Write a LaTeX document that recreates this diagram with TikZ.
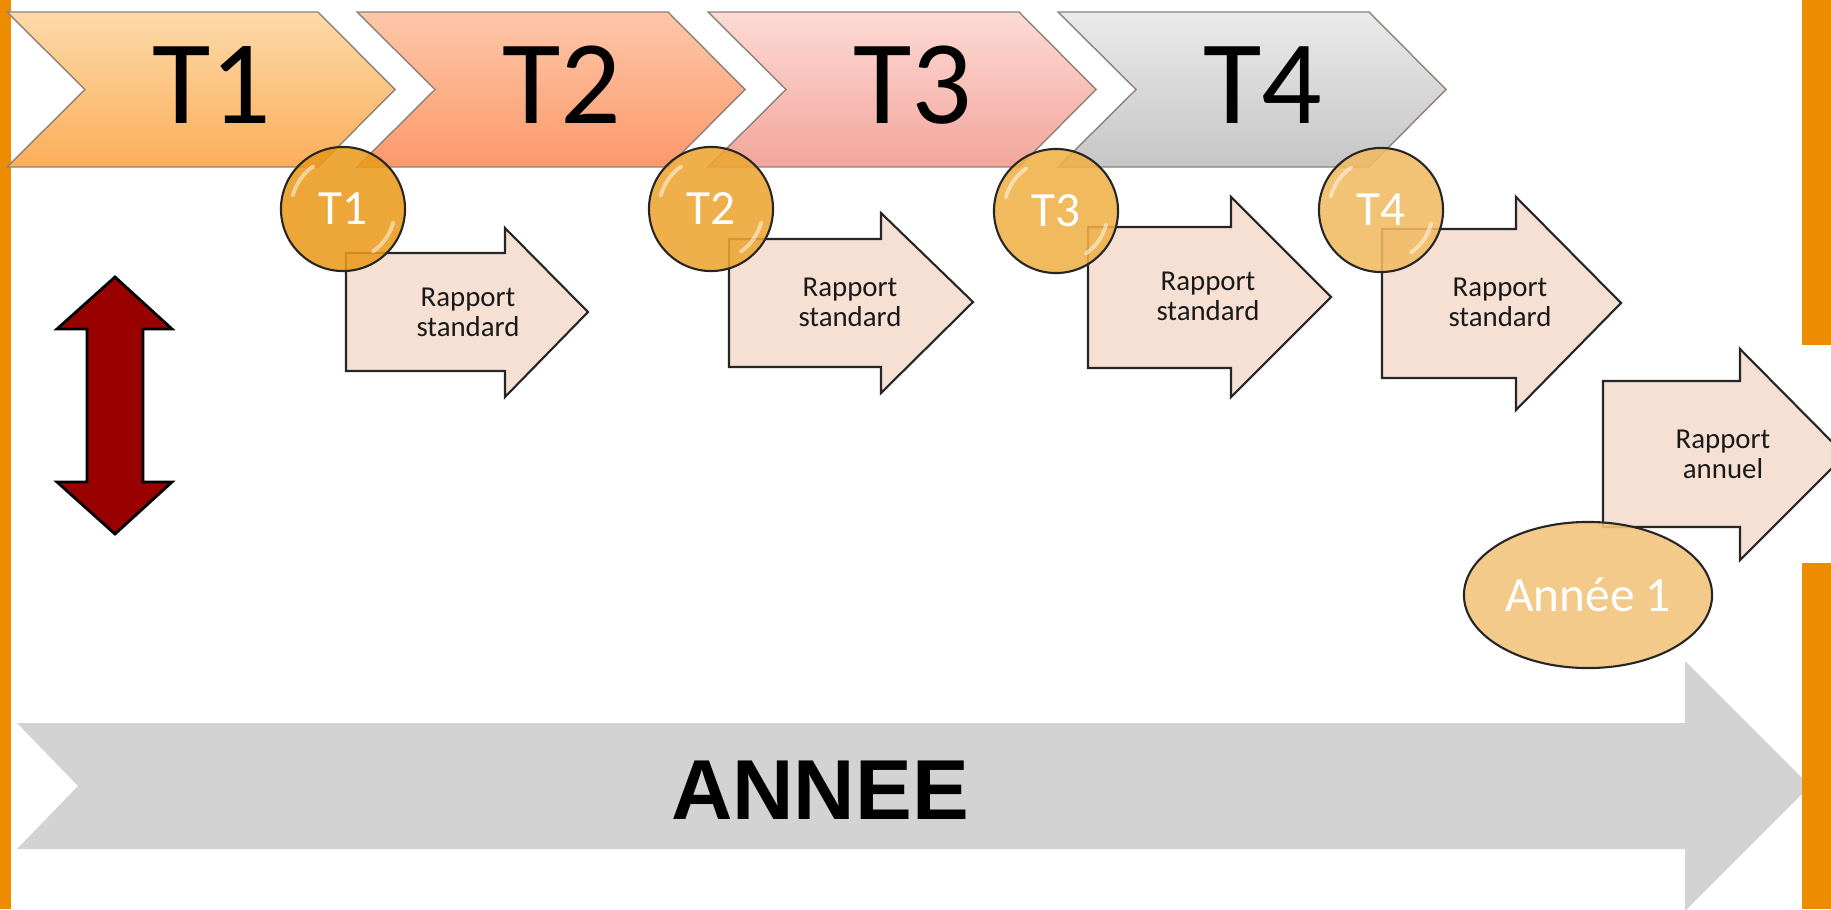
\documentclass[tikz,border=0pt]{standalone}
\usepackage{fontspec}
\setmainfont{Carlito}
\newfontfamily\arialfont{Liberation Sans}
\usetikzlibrary{shapes.geometric}
\definecolor{bordorange}{HTML}{EE8C00}
\definecolor{tunhaut}{HTML}{FDDAA9}
\definecolor{tunbas}{HTML}{FBAE5A}
\definecolor{tdeuxhaut}{HTML}{FDC7A9}
\definecolor{tdeuxbas}{HTML}{FB996A}
\definecolor{ttroishaut}{HTML}{FDDAD5}
\definecolor{ttroisbas}{HTML}{F2A59B}
\definecolor{tquatrehaut}{HTML}{EAEAEA}
\definecolor{tquatrebas}{HTML}{C6C6C6}
\definecolor{chevronbord}{HTML}{8E8278}
\definecolor{rapportfond}{HTML}{F6DFD3}
\definecolor{rougefonce}{HTML}{990000}
\definecolor{grisannee}{HTML}{D3D3D3}
\definecolor{bulleun}{HTML}{EA9A1C}
\definecolor{bulledeux}{HTML}{EDA533}
\definecolor{bulletrois}{HTML}{EFB047}
\definecolor{bullequatre}{HTML}{F1BB62}
\definecolor{bulleannee}{HTML}{F3C47E}
\newcommand{\flecherapport}[8]{%
  \draw[rapport] (#1,#2) -- (#4,#2) -- (#4,#5) -- (#7,#8) -- (#4,#6) -- (#4,#3) -- (#1,#3) -- cycle;}
\begin{document}
\begin{tikzpicture}[x=0.01cm, y=-0.01cm,
    chevron/.style={draw=chevronbord, line width=0.4pt},
    rapport/.style={draw=black!85, fill=rapportfond, line width=0.6pt},
    rapporttexte/.style={align=center, text=black!90, font=\fontsize{8.2}{8.6}\selectfont},
    reflet/.style={white, opacity=0.5, line width=1.1pt, line cap=round},
    bulle/.style={circle, draw=black!85, line width=0.6pt, minimum size=1.24cm, inner sep=0pt,
      fill opacity=0.88, text opacity=1, text=white, font=\fontsize{14}{14}\selectfont}]
  \useasboundingbox (0,0) rectangle (1831,909);

  % Grande fleche ANNEE
  \fill[grisannee] (17,723) -- (1685,723) -- (1685,661) -- (1810,786) -- (1685,911)
    -- (1685,849) -- (17,849) -- (78,786) -- cycle;
  \node[font=\arialfont\bfseries\fontsize{24.2}{24}\selectfont] (annee) at (820,790.5) {ANNEE};

  % Bandes orange
  \fill[bordorange] (0,0) rectangle (11,909);
  \fill[bordorange] (1802,0) rectangle (1831,909);

  % Trimestres
  \foreach \x/\haut/\bas/\lab in {7/tunhaut/tunbas/T1, 357/tdeuxhaut/tdeuxbas/T2,
      708/ttroishaut/ttroisbas/T3, 1058/tquatrehaut/tquatrebas/T4} {
    \draw[chevron, top color=\haut, bottom color=\bas]
      (\x,12) -- ++(311,0) -- ++(77,77.5) -- ++(-77,77.5) -- ++(-311,0) -- ++(78,-77.5) -- cycle;
    \node[font=\fontsize{34}{34}\selectfont] (chev\lab) at (\x+205,85) {\lab};
  }

  % Double fleche rouge
  \draw[fill=rougefonce, draw=black, line width=0.8pt] (115,277) -- (172,329) -- (143,329)
    -- (143,482) -- (172,482) -- (115,534) -- (57,482) -- (87,482) -- (87,329) -- (57,329) -- cycle;

  % Rapports
  \flecherapport{346}{253}{371}{505}{228}{397}{588}{312}
  \node[rapporttexte] (rap1) at (468,312) {Rapport\\standard};
  \flecherapport{729}{239}{367}{881}{213}{393}{973}{302}
  \node[rapporttexte] (rap2) at (850,302.5) {Rapport\\standard};
  \flecherapport{1088}{227}{368}{1231}{197}{397}{1331}{297}
  \node[rapporttexte] (rap3) at (1208,296) {Rapport\\standard};
  \flecherapport{1382}{229}{378}{1516}{197}{410}{1621}{303}
  \node[rapporttexte] (rap4) at (1500,302.5) {Rapport\\standard};
  \fill[white] (1800,345) rectangle (1831,563);
  \flecherapport{1603}{381}{527}{1740}{349}{560}{1845}{455}
  \node[rapporttexte] (rapannuel) at (1723,454) {Rapport\\annuel};

  % Bulles trimestrielles
  \foreach \nom/\cx/\cy/\coul/\lab in {b1/343/209/bulleun/T1, b2/711/209/bulledeux/T2,
      b3/1056/211/bulletrois/T3, b4/1381/210/bullequatre/T4} {
    \node[bulle, fill=\coul] (\nom) at (\cx,\cy) {\lab};
    \draw[reflet] (\cx,\cy) ++(-165:52) arc[start angle=-165, end angle=-125, radius=52];
    \draw[reflet] (\cx,\cy) ++(15:52) arc[start angle=15, end angle=55, radius=52];
  }

  % Annee 1
  \node[ellipse, draw=black!85, line width=0.6pt, fill=bulleannee, fill opacity=0.9, text opacity=1,
    minimum width=2.48cm, minimum height=1.46cm, inner sep=0pt, text=white,
    font=\fontsize{14}{14}\selectfont] (an1) at (1588,595) {Année 1};
\end{tikzpicture}
\end{document}
